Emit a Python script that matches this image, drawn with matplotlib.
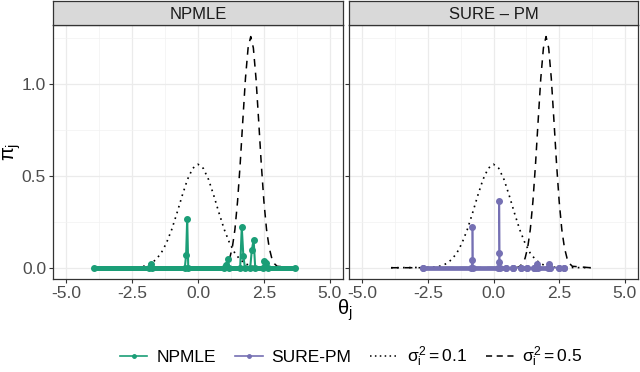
import matplotlib.pyplot as plt
from matplotlib.lines import Line2D

plt.rcParams['font.family'] = ['Liberation Sans', 'DejaVu Sans']
plt.rcParams['mathtext.fontset'] = 'custom'
plt.rcParams['mathtext.rm'] = 'Liberation Sans'
plt.rcParams['mathtext.it'] = 'Liberation Sans'

GREEN = '#1B9E77'
PURPLE = '#7570B3'

facets = ['NPMLE', 'SURE \u2013 PM']
x_ticks = [-5.0, -2.5, 0.0, 2.5, 5.0]
y_ticks = [0.0, 0.5, 1.0]

# prior densities (same in both panels)
dotted_theta = [-3.9, -2.4, -2.2, -2.0, -1.8, -1.6, -1.4, -1.2, -1.0, -0.8,
                -0.6, -0.4, -0.2, 0.0, 0.2, 0.4, 0.6, 0.8, 1.0, 1.2, 1.4,
                1.6, 1.8, 2.0, 2.2, 2.4, 3.7]
dotted_pi = [0.0, 0.002, 0.004, 0.010, 0.022, 0.044, 0.079, 0.134, 0.207,
             0.297, 0.393, 0.481, 0.542, 0.564, 0.542, 0.481, 0.393, 0.297,
             0.207, 0.134, 0.079, 0.044, 0.022, 0.010, 0.004, 0.002, 0.0]
dashed_theta = [-3.9, 0.9, 1.0, 1.1, 1.2, 1.3, 1.4, 1.5, 1.6, 1.7, 1.8, 1.9,
                2.0, 2.1, 2.2, 2.3, 2.4, 2.5, 2.6, 2.7, 2.8, 2.9, 3.0, 3.7]
dashed_pi = [0.0, 0.001, 0.008, 0.022, 0.051, 0.109, 0.208, 0.361, 0.566,
             0.803, 1.032, 1.198, 1.26, 1.198, 1.032, 0.803, 0.566, 0.361,
             0.208, 0.109, 0.051, 0.022, 0.008, 0.0]

# NPMLE atoms (zero weight everywhere else on the support)
npmle_support = [-3.96, 3.68]
npmle_theta = [-3.96, -1.85, -1.79, -1.73, -0.50, -0.45, -0.41, -0.37, 1.00,
               1.06, 1.13, 1.19, 1.60, 1.66, 1.72, 1.78, 1.98, 2.04, 2.11,
               2.17, 2.46, 2.52, 2.59, 2.65, 3.68]
npmle_pi = [0.0, 0.0, 0.018, 0.0, 0.0, 0.07, 0.267, 0.0, 0.0,
            0.015, 0.05, 0.0, 0.0, 0.221, 0.065, 0.0, 0.0, 0.095, 0.153,
            0.0, 0.0, 0.036, 0.028, 0.0, 0.0]

# SURE-PM atoms, and the stretches where its zero-weight atoms pile up
sure_theta = [-2.68, -0.84, -0.81, -0.80, -0.78, 0.19, 0.21, 0.215, 0.22,
              0.24, 0.47, 0.75, 1.03, 1.28, 1.53, 1.62, 1.65, 1.68, 2.08,
              2.12, 2.16, 2.50, 2.68]
sure_pi = [0.0, 0.0, 0.041, 0.223, 0.0, 0.0, 0.029, 0.081, 0.366,
           0.0, 0.0, 0.0, 0.0, 0.0, 0.0, 0.0, 0.018, 0.0, 0.0,
           0.022, 0.0, 0.0, 0.0]
sure_zero_lo = [-2.68, 0.75, 1.03, 1.53, 2.50]
sure_zero_hi = [0.47, 0.75, 1.28, 2.16, 2.68]

fig = plt.figure(figsize=(6.4, 3.72), dpi=100)

H = 372.0
W = 640.0
panel_left = [53, 349]
panel_right = [343, 638]
panel_top = 25
panel_bottom = 279.3
strip_top = 1

axes = []
for i, name in enumerate(facets):
    l = panel_left[i] / W
    w = (panel_right[i] - panel_left[i]) / W
    ax = fig.add_axes([l, 1 - panel_bottom / H, w,
                       (panel_bottom - panel_top) / H])
    sax = fig.add_axes([l, 1 - panel_top / H, w, (panel_top - strip_top) / H])
    sax.set_facecolor('#D9D9D9')
    sax.set_xticks([])
    sax.set_yticks([])
    for s in sax.spines.values():
        s.set_color('#333333')
        s.set_linewidth(0.9)
    sax.text(0.5, 0.45, name, ha='center', va='center', fontsize=12,
             color='#1A1A1A', transform=sax.transAxes)

    ax.set_xlim(-5.5, 5.5)
    ax.set_ylim(-0.063, 1.323)
    ax.set_xticks(x_ticks)
    ax.set_xticks([-3.75, -1.25, 1.25, 3.75], minor=True)
    ax.set_yticks(y_ticks)
    ax.set_yticks([0.25, 0.75, 1.25], minor=True)
    ax.set_xticklabels(['%.1f' % t for t in x_ticks])
    if i == 0:
        ax.set_yticklabels(['%.1f' % t for t in y_ticks])
    else:
        ax.set_yticklabels([])
        ax.tick_params(axis='y', length=0)
    ax.grid(True, which='major', color='#EBEBEB', lw=0.9)
    ax.grid(True, which='minor', color='#F2F2F2', lw=0.5)
    ax.set_axisbelow(True)
    ax.tick_params(which='major', color='#333333', length=3, width=0.8,
                   labelsize=12.5, labelcolor='#4D4D4D', pad=2)
    ax.tick_params(which='minor', length=0)
    for s in ax.spines.values():
        s.set_color('#333333')
        s.set_linewidth(0.9)

    ax.plot(dotted_theta, dotted_pi, color='black', lw=1.2,
            dashes=(1, 2.6), zorder=3)
    ax.plot(dashed_theta, dashed_pi, color='black', lw=1.1,
            dashes=(5, 4), zorder=3)
    axes.append(ax)

# NPMLE panel
ax = axes[0]
ax.hlines(0, npmle_support[0], npmle_support[1], color=GREEN, lw=3.6,
          zorder=4)
ax.plot(npmle_theta, npmle_pi, color=GREEN, lw=1.5, marker='o', ms=4,
        zorder=5)

# SURE-PM panel
ax = axes[1]
ax.plot(sure_theta, sure_pi, color=PURPLE, lw=1.2, marker='o', ms=4,
        zorder=5)
ax.hlines([0] * len(sure_zero_lo), sure_zero_lo, sure_zero_hi, color=PURPLE,
          lw=3.4, zorder=4)
ax.plot(sure_zero_lo + sure_zero_hi, [0] * (2 * len(sure_zero_lo)), 'o',
        color=PURPLE, ms=4, zorder=5)

fig.text(12 / W, 1 - 152 / H, r'$\pi_j$', rotation=90, ha='center',
         va='center', fontsize=14.5)
fig.text(345 / W, 1 - 310 / H, r'$\theta_j$', ha='center', va='center',
         fontsize=14.5)

handles = [
    Line2D([], [], color=GREEN, lw=1.2, marker='o', ms=2.5),
    Line2D([], [], color=PURPLE, lw=1.2, marker='o', ms=2.5),
    Line2D([], [], color='black', lw=1.1, dashes=(1, 2.2)),
    Line2D([], [], color='black', lw=1.1, dashes=(4, 3)),
]
labels = ['NPMLE', 'SURE-PM', r'$\sigma_i^2 = 0.1$', r'$\sigma_i^2 = 0.5$']
fig.legend(handles, labels, loc='center', ncol=4, frameon=False,
           bbox_to_anchor=(351 / W, 1 - 357 / H), fontsize=12.5,
           handlelength=1.6, handletextpad=0.5, columnspacing=1.1)

fig.savefig('out.png', dpi=100)
